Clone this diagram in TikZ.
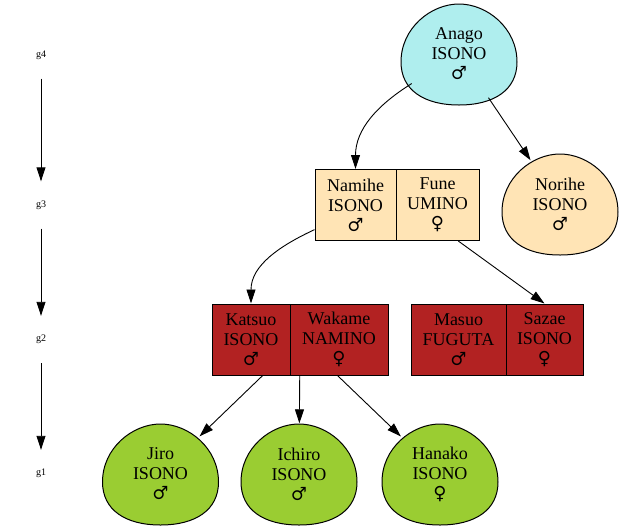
\documentclass[tikz,border=0pt]{standalone}
\usepackage{fontspec}
\setmainfont{Liberation Serif}
\newfontfamily\symf{DejaVu Serif}
\usetikzlibrary{arrows.meta,shapes.geometric}
\definecolor{pturq}{HTML}{AFEEEE}
\definecolor{mocc}{HTML}{FFE4B5}
\definecolor{fbrick}{HTML}{B22222}
\definecolor{ygreen}{HTML}{9ACD32}
\newcommand\ml{{\symf\fontsize{18}{20}\selectfont ♂}}
\newcommand\fl{{\symf\fontsize{18}{20}\selectfont ♀}}
\tikzset{
  txt/.style={font=\fontsize{18}{20}\selectfont, align=center, inner sep=0pt},
  eggline/.style={draw=black, line width=1pt},
  eggbound/.style={shape=ellipse, minimum width=116pt, minimum height=101pt, inner sep=0pt, draw=none},
  cell/.style={txt, draw=black, line width=1pt, minimum height=71pt},
  wholerec/.style={draw=none, minimum width=175pt, minimum height=71pt, inner sep=0pt},
  glab/.style={font=\fontsize{10}{12}\selectfont, minimum height=47pt, inner sep=0pt},
  edge/.style={line width=0.9pt, -{Triangle[length=14pt,width=9pt]}},
}
\newcommand\eggnode[5]{%
  \begin{scope}[shift={(#2,#3)}]
    \draw[eggline,fill=#4] (0,50) .. controls (28,50) and (58,26) .. (58,-8)
      .. controls (58,-36) and (35,-51) .. (0,-51)
      .. controls (-35,-51) and (-58,-36) .. (-58,-8)
      .. controls (-58,26) and (-28,50) .. (0,50) -- cycle;
    \node[eggbound] (#1) at (0,0) {};
    \node[txt] (#1-t) at (0,0) {#5};
  \end{scope}}
\begin{document}
\begin{tikzpicture}[x=1pt,y=1pt]
\useasboundingbox (0,0) rectangle (624,-531);
% generation labels
\node[glab] (g4) at (41,-55) {g4};
\node[glab] (g3) at (41,-205) {g3};
\node[glab] (g2) at (41,-339.5) {g2};
\node[glab] (g1) at (41,-473.5) {g1};
\draw[edge] (g4) -- (g3);
\draw[edge] (g3) -- (g2);
\draw[edge] (g2) -- (g1);
% eggs
\eggnode{anago}{459}{-54}{pturq}{Anago\\ISONO\\\ml}
\eggnode{norihe}{560}{-204}{mocc}{Norihe\\ISONO\\\ml}
\eggnode{jiro}{160.5}{-474}{ygreen}{Jiro\\ISONO\\\ml}
\eggnode{ichiro}{299}{-474}{ygreen}{Ichiro\\ISONO\\\ml}
\eggnode{hanako}{440}{-474}{ygreen}{Hanako\\ISONO\\\fl}
% records
\node[cell, fill=mocc, minimum width=81pt] (namihe) at (355.5,-205) {Namihe\\ISONO\\\ml};
\node[cell, fill=mocc, minimum width=83pt] (fune) at (437.5,-205) {Fune\\UMINO\\\fl};
\node[cell, fill=fbrick, minimum width=78pt] (katsuo) at (251,-339.5) {Katsuo\\ISONO\\\ml};
\node[cell, fill=fbrick, minimum width=98pt] (wakame) at (339,-339.5) {Wakame\\NAMINO\\\fl};
\node[wholerec] (kw) at (300,-339.5) {};
\node[cell, fill=fbrick, minimum width=95pt] (masuo) at (458.5,-339.5) {Masuo\\FUGUTA\\\ml};
\node[cell, fill=fbrick, minimum width=77pt] (sazae) at (544.5,-339.5) {Sazae\\ISONO\\\fl};
% edges
\draw[edge] (anago) to[out=212,in=90] (namihe.north);
\draw[edge] (anago) -- (norihe);
\draw[edge] (namihe.211) to[out=205,in=90] (katsuo.north);
\draw[edge] (fune.-60) -- (sazae.north);
\draw[edge] (kw) -- (jiro);
\draw[edge] (kw) -- (ichiro);
\draw[edge] (kw) -- (hanako);
\end{tikzpicture}
\end{document}
